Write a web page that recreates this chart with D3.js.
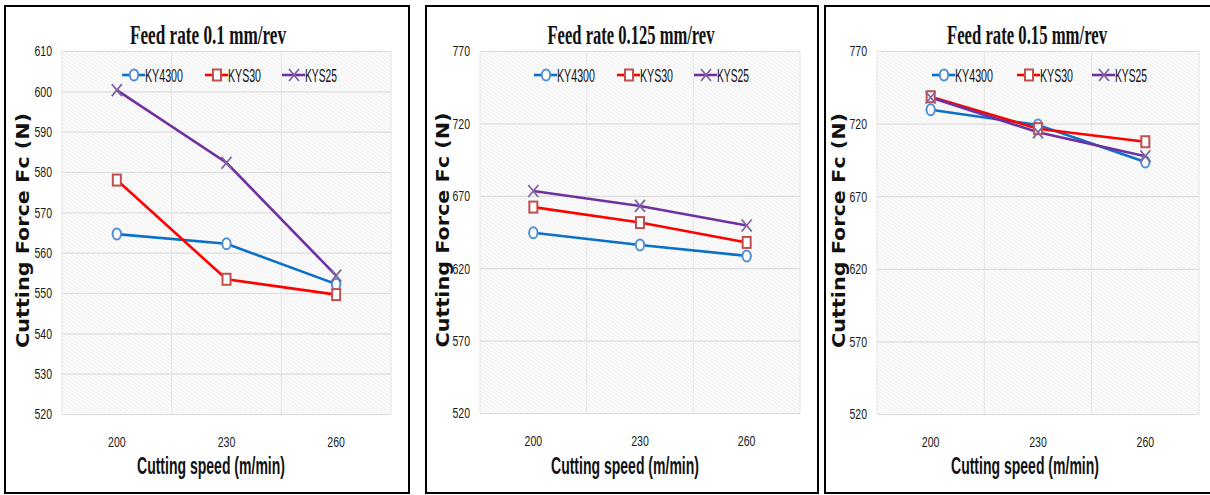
<!DOCTYPE html>
<html>
  <head>
    <meta charset="utf-8">
    <title>Cutting force vs cutting speed</title>
    <script src="https://d3js.org/d3.v7.min.js"></script>
    <style>
      body { margin: 0; background: #fff; }
    </style>
  </head>
  <body>
    <script>
      // Data
      var categories = [200, 230, 260];
      var seriesNames = ["KY4300", "KYS30", "KYS25"];
      var titles = ["Feed rate 0.1 mm/rev", "Feed rate 0.125 mm/rev", "Feed rate 0.15 mm/rev"];
      var yTicks = [
        [520, 530, 540, 550, 560, 570, 580, 590, 600, 610],
        [520, 570, 620, 670, 720, 770],
        [520, 570, 620, 670, 720, 770]
      ];
      var ky4300 = [[564.6, 562.2, 552.2], [644.5, 636.0, 628.5], [729.5, 719.0, 693.5]];
      var kys30  = [[578.0, 553.4, 549.6], [662.2, 651.5, 637.8], [738.5, 716.5, 707.5]];
      var kys25  = [[600.3, 582.3, 554.3], [673.3, 663.0, 649.5], [738.0, 714.0, 697.5]];

      var lineColors = ["#0a70c8", "#ff0000", "#7030a0"];
      var markColors = ["#4f8fd6", "#c0504d", "#8064a2"];

      // panel frames, plot areas and text anchors (page pixels)
      var frames = [
        {x: 5, y: 6, w: 404, h: 487, plot: {l: 62, t: 51, r: 391, b: 414},
         titleX: 208, xTitleX: 211, yTitleX: 29, legX: [145, 228, 305]},
        {x: 426, y: 6, w: 392, h: 487, plot: {l: 480, t: 51, r: 800, b: 413},
         titleX: 631, xTitleX: 625, yTitleX: 449, legX: [557, 640, 717]},
        {x: 825, y: 6, w: 400, h: 487, plot: {l: 877, t: 51, r: 1199, b: 414},
         titleX: 1027, xTitleX: 1025, yTitleX: 845, legX: [955, 1040, 1115]}
      ];

      var narrow = "'Liberation Sans', Arial, sans-serif";

      var svg = d3.select("body").append("svg")
        .attr("width", 1210)
        .attr("height", 495);

      // hatched background
      var pat = svg.append("defs").append("pattern")
        .attr("id", "hatch")
        .attr("patternUnits", "userSpaceOnUse")
        .attr("width", 3).attr("height", 3)
        .attr("patternTransform", "rotate(-55)");
      pat.append("rect").attr("width", 3).attr("height", 3).attr("fill", "#fcfcfc");
      pat.append("line").attr("x1", 0).attr("y1", 0).attr("x2", 0).attr("y2", 3)
        .attr("stroke", "#e4e4e4").attr("stroke-width", 1);

      // squeeze text horizontally, like the condensed fonts in the original
      function squeeze(sel, k) {
        sel.each(function() {
          var len = this.getComputedTextLength();
          d3.select(this).attr("textLength", len * k).attr("lengthAdjust", "spacingAndGlyphs");
        });
      }

      function marker(g, type, cx, cy, i) {
        if (type === 0) {
          g.append("ellipse").attr("cx", cx).attr("cy", cy).attr("rx", 4.2).attr("ry", 5.5)
            .attr("fill", "#fff").attr("stroke", markColors[i]).attr("stroke-width", 2);
        } else if (type === 1) {
          g.append("rect").attr("x", cx - 4).attr("y", cy - 5.5).attr("width", 8).attr("height", 11)
            .attr("fill", "#fff").attr("stroke", markColors[i]).attr("stroke-width", 2);
        } else {
          g.append("path")
            .attr("d", "M" + (cx - 5) + "," + (cy - 6) + "L" + (cx + 5) + "," + (cy + 6) +
                       "M" + (cx + 5) + "," + (cy - 6) + "L" + (cx - 5) + "," + (cy + 6))
            .attr("stroke", markColors[i]).attr("stroke-width", 1.8).attr("fill", "none");
        }
      }

      frames.forEach(function(f, p) {
        var allSeries = [ky4300[p], kys30[p], kys25[p]];
        var ticks = yTicks[p];
        var pl = f.plot;
        var g = svg.append("g");

        var x = d3.scaleBand().domain(categories).range([pl.l, pl.r]).padding(0);
        var y = d3.scaleLinear().domain([ticks[0], ticks[ticks.length - 1]]).range([pl.b, pl.t]);

        g.append("rect").attr("x", pl.l).attr("y", pl.t)
          .attr("width", pl.r - pl.l).attr("height", pl.b - pl.t)
          .attr("fill", "url(#hatch)");

        // horizontal gridlines + labels
        var ya = g.append("g").attr("transform", "translate(" + pl.l + ",0)")
          .call(d3.axisLeft(y).tickValues(ticks).tickSize(-(pl.r - pl.l)).tickPadding(10));
        ya.select(".domain").remove();
        ya.selectAll(".tick line").attr("stroke", "#dcdcdc").attr("stroke-width", 1.2);
        ya.selectAll(".tick text")
          .attr("font-family", narrow).attr("font-size", 15.5).attr("fill", "#1a1a1a")
          .call(squeeze, 0.68);

        // vertical gridlines at band edges
        var edges = categories.map(function(c) { return x(c); }).concat([pl.r]);
        g.selectAll(".vgrid").data(edges).enter().append("line")
          .attr("x1", function(d) { return d; }).attr("x2", function(d) { return d; })
          .attr("y1", pl.t).attr("y2", pl.b)
          .attr("stroke", "#e4e4e4").attr("stroke-width", 1);

        // x axis labels
        var xa = g.append("g").attr("transform", "translate(0," + pl.b + ")")
          .call(d3.axisBottom(x).tickSize(0).tickPadding(22));
        xa.select(".domain").remove();
        xa.selectAll(".tick text")
          .attr("font-family", narrow).attr("font-size", 15.5).attr("fill", "#1a1a1a")
          .call(squeeze, 0.68);

        // lines and markers
        var line = d3.line()
          .x(function(d, k) { return x(categories[k]) + x.bandwidth() / 2; })
          .y(function(d) { return y(d); });
        allSeries.forEach(function(s, i) {
          g.append("path").datum(s).attr("d", line)
            .attr("fill", "none").attr("stroke", lineColors[i]).attr("stroke-width", 2.6);
        });
        allSeries.forEach(function(s, i) {
          s.forEach(function(v, k) {
            marker(g, i, x(categories[k]) + x.bandwidth() / 2, y(v), i);
          });
        });

        // legend
        var legLens = [38, 33, 32];
        seriesNames.forEach(function(name, i) {
          var lx = f.legX[i];
          var ly = 75;
          g.append("line").attr("x1", lx - 23).attr("x2", lx).attr("y1", ly).attr("y2", ly)
            .attr("stroke", lineColors[i]).attr("stroke-width", 2.6);
          marker(g, i, lx - 11, ly, i);
          g.append("text").attr("x", lx).attr("y", ly + 6.5)
            .attr("font-family", narrow).attr("font-size", 18.5).attr("fill", "#111")
            .attr("textLength", legLens[i]).attr("lengthAdjust", "spacingAndGlyphs")
            .text(name);
        });

        // chart title
        var tLen = [156, 167, 160];
        g.append("text").attr("x", f.titleX).attr("y", 44)
          .attr("text-anchor", "middle")
          .attr("font-family", "'Liberation Serif', serif").attr("font-weight", "bold")
          .attr("font-size", 27).attr("fill", "#111")
          .attr("textLength", tLen[p]).attr("lengthAdjust", "spacingAndGlyphs")
          .text(titles[p]);

        // x axis title
        g.append("text").attr("x", f.xTitleX).attr("y", 474)
          .attr("text-anchor", "middle")
          .attr("font-family", narrow).attr("font-weight", "bold")
          .attr("font-size", 23).attr("fill", "#111")
          .attr("textLength", 148).attr("lengthAdjust", "spacingAndGlyphs")
          .text("Cutting speed (m/min)");

        // y axis title
        var yc = (pl.t + pl.b) / 2;
        g.append("text")
          .attr("transform", "translate(" + f.yTitleX + "," + (yc - 2) + ") rotate(-90)")
          .attr("text-anchor", "middle")
          .attr("font-family", "'DejaVu Sans', sans-serif").attr("font-weight", "bold")
          .attr("font-size", 18).attr("fill", "#111")
          .attr("textLength", 235).attr("lengthAdjust", "spacingAndGlyphs")
          .text("Cutting Force Fc (N)");

        // panel frame
        svg.append("rect").attr("x", f.x).attr("y", f.y).attr("width", f.w).attr("height", f.h)
          .attr("fill", "none").attr("stroke", "#000").attr("stroke-width", 2);
      });
    </script>
  </body>
</html>
